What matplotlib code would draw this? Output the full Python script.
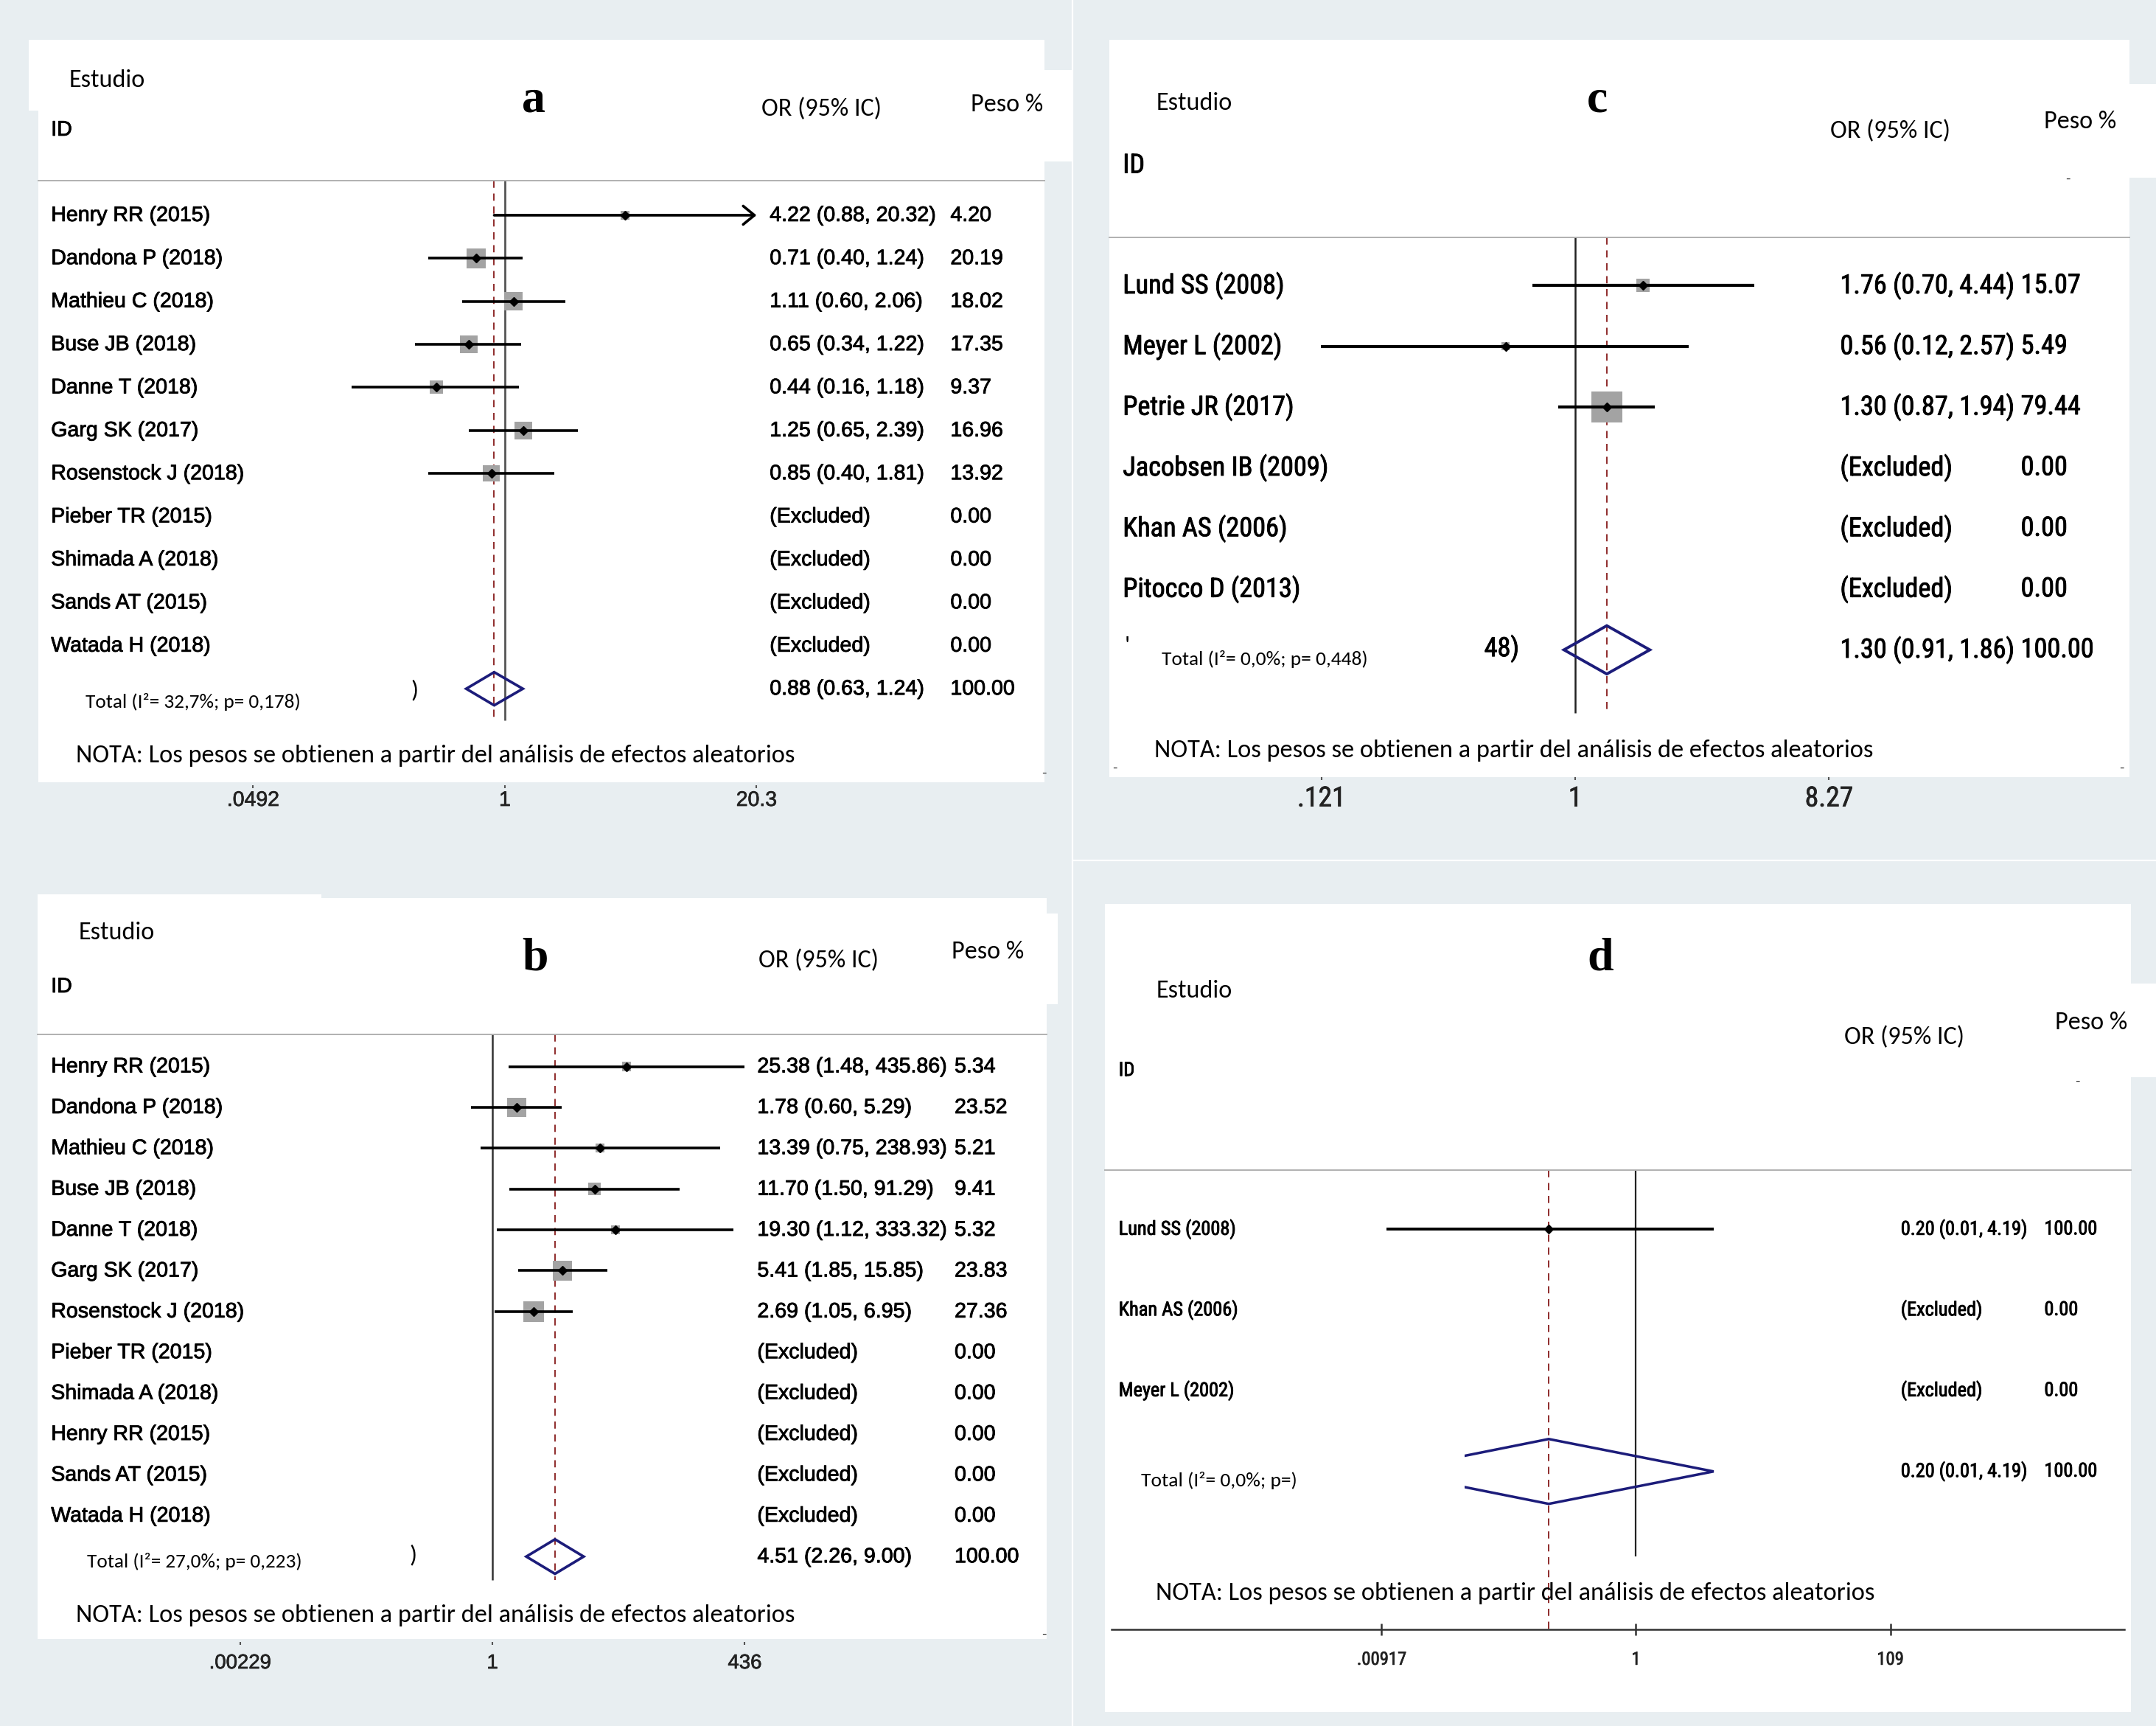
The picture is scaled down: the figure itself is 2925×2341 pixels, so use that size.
import numpy as np
import matplotlib
matplotlib.use("Agg")
import matplotlib.pyplot as plt
import matplotlib.transforms as mtransforms
import matplotlib.patheffects as pe
from matplotlib.patches import Rectangle, Polygon
from matplotlib.lines import Line2D
from matplotlib.ticker import NullLocator
from matplotlib import font_manager as fm

nan = np.nan
# ------------------------------------------------------------------ data
a_study = ["Henry RR (2015)", "Dandona P (2018)", "Mathieu C (2018)", "Buse JB (2018)",
           "Danne T (2018)", "Garg SK (2017)", "Rosenstock J (2018)", "Pieber TR (2015)",
           "Shimada A (2018)", "Sands AT (2015)", "Watada H (2018)"]
a_or = [4.22, 0.71, 1.11, 0.65, 0.44, 1.25, 0.85, nan, nan, nan, nan]
a_lo = [0.88, 0.40, 0.60, 0.34, 0.16, 0.65, 0.40, nan, nan, nan, nan]
a_hi = [20.32, 1.24, 2.06, 1.22, 1.18, 2.39, 1.81, nan, nan, nan, nan]
a_weight = [4.20, 20.19, 18.02, 17.35, 9.37, 16.96, 13.92, 0.00, 0.00, 0.00, 0.00]
a_total = [0.88, 0.63, 1.24]
a_total_weight = 100.00
a_het = "Total (I²= 32,7%; p= 0,178)"
a_ticks = [0.0492, 1, 20.3]
a_ticklabels = [".0492", "1", "20.3"]

b_study = ["Henry RR (2015)", "Dandona P (2018)", "Mathieu C (2018)", "Buse JB (2018)",
           "Danne T (2018)", "Garg SK (2017)", "Rosenstock J (2018)", "Pieber TR (2015)",
           "Shimada A (2018)", "Henry RR (2015)", "Sands AT (2015)", "Watada H (2018)"]
b_or = [25.38, 1.78, 13.39, 11.70, 19.30, 5.41, 2.69, nan, nan, nan, nan, nan]
b_lo = [1.48, 0.60, 0.75, 1.50, 1.12, 1.85, 1.05, nan, nan, nan, nan, nan]
b_hi = [435.86, 5.29, 238.93, 91.29, 333.32, 15.85, 6.95, nan, nan, nan, nan, nan]
b_weight = [5.34, 23.52, 5.21, 9.41, 5.32, 23.83, 27.36, 0.00, 0.00, 0.00, 0.00, 0.00]
b_total = [4.51, 2.26, 9.00]
b_total_weight = 100.00
b_het = "Total (I²= 27,0%; p= 0,223)"
b_ticks = [0.00229, 1, 436]
b_ticklabels = [".00229", "1", "436"]

c_study = ["Lund SS (2008)", "Meyer L (2002)", "Petrie JR (2017)", "Jacobsen IB (2009)",
           "Khan AS (2006)", "Pitocco D (2013)"]
c_or = [1.76, 0.56, 1.30, nan, nan, nan]
c_lo = [0.70, 0.12, 0.87, nan, nan, nan]
c_hi = [4.44, 2.57, 1.94, nan, nan, nan]
c_weight = [15.07, 5.49, 79.44, 0.00, 0.00, 0.00]
c_total = [1.30, 0.91, 1.86]
c_total_weight = 100.00
c_het = "Total (I²= 0,0%; p= 0,448)"
c_ticks = [0.121, 1, 8.27]
c_ticklabels = [".121", "1", "8.27"]

d_study = ["Lund SS (2008)", "Khan AS (2006)", "Meyer L (2002)"]
d_or = [0.20, nan, nan]
d_lo = [0.01, nan, nan]
d_hi = [4.19, nan, nan]
d_weight = [100.00, 0.00, 0.00]
d_total = [0.20, 0.01, 4.19]
d_total_weight = 100.00
d_het = "Total (I²= 0,0%; p=)"
d_ticks = [0.00917, 1, 109]
d_ticklabels = [".00917", "1", "109"]

panel_letters = ["a", "b", "c", "d"]
hdr_study = "Estudio"
hdr_id = "ID"
hdr_or = "OR (95% IC)"
hdr_w = "Peso %"
nota = "NOTA: Los pesos se obtienen a partir del análisis de efectos aleatorios"

# ------------------------------------------------------------------ fonts
avail = {f.name for f in fm.fontManager.ttflist}
REG = "Liberation Sans" if "Liberation Sans" in avail else "DejaVu Sans"
NARROW = REG
for cand in ["Liberation Sans Narrow", "Arial Narrow", "Roboto Condensed",
             "Open Sans Condensed", "Noto Sans Condensed"]:
    if cand in avail:
        NARROW = cand
        break
CAL = "Carlito" if "Carlito" in avail else ("Open Sans" if "Open Sans" in avail else REG)
SERIF = "Liberation Serif" if "Liberation Serif" in avail else "DejaVu Serif"
STROKE = [pe.withStroke(linewidth=0.6, foreground="black")]

# ------------------------------------------------------------------ figure
W, H = 1563.0, 1251.0          # layout units
SC = 2925.0 / W                # pixels per layout unit
fig = plt.figure(figsize=(29.25, 23.41), dpi=100)
BG = "#e8eef1"
fig.patch.set_facecolor(BG)
renderer = fig.canvas.get_renderer()


def fsize(s, family, target, weight="normal"):
    t = fig.text(0, 0, s, fontsize=20, family=family, weight=weight)
    w = t.get_window_extent(renderer).width
    t.remove()
    return 20.0 * target * SC / w


def frect(x0, y0, x1, y1, color="white", z=-5):
    fig.add_artist(Rectangle((x0 / W, 1 - y1 / H), (x1 - x0) / W, (y1 - y0) / H,
                             transform=fig.transFigure, facecolor=color,
                             edgecolor="none", zorder=z))


def ftext(x, y, s, **kw):
    kw.setdefault("va", "center")
    kw.setdefault("ha", "left")
    return fig.text(x / W, 1 - y / H, s, **kw)


def fline(x0, y0, x1, y1, **kw):
    fig.add_artist(Line2D([x0 / W, x1 / W], [1 - y0 / H, 1 - y1 / H],
                          transform=fig.transFigure, **kw))


# white panel backgrounds
frect(21, 29, 757, 80)
frect(28, 29, 757, 567)
frect(757, 51, 777, 117)
frect(27, 648, 233, 660)
frect(27, 651, 759, 1188)
frect(759, 662, 767, 728)
frect(804, 29, 1544, 563)
frect(1544, 61, 1563, 129)
frect(801, 655, 1545, 1241)
frect(1545, 713, 1563, 781)
# thin white divisions between quadrants
fline(777.5, 0, 777.5, H, color="white", lw=1.6, zorder=-4)
fline(778, 623.5, W, 623.5, color="white", lw=1.6, zorder=-4)

hdr_fs = fsize(hdr_or, CAL, 87)
nota_fs = fsize(nota, CAL, 520)

panels = [
    dict(study=a_study, orr=a_or, lo=a_lo, hi=a_hi, w=a_weight, total=a_total,
         tw=a_total_weight, het=a_het, ticks=a_ticks, tl=a_ticklabels,
         box=(28, 757, 131, 569), x1=366, k=60.6, y0=156, dy=31.2, null_end=522,
         dash_end=522, dh=12, name_x=37, or_x=558, w_x=689, het_xy=(62, 509),
         row=(REG, "Rosenstock J (2018)", 140), tick=(REG, ".0492", 38), tick_y=581,
         het_w=156, sq=5.9, ci_lw=2.6, null_c="#555555", null_lw=2.0, dia_lw=2.6,
         h_est=(50, 58), h_id=(37, 94), h_let=(387, 73), h_or=(552, 79), h_w=(704, 76),
         h_nota=(55, 548), extra=[(")", 298, 500)], dashes=[(757, 561)],
         tick_len=3, tick_dir="out"),
    dict(study=b_study, orr=b_or, lo=b_lo, hi=b_hi, w=b_weight, total=b_total,
         tw=b_total_weight, het=b_het, ticks=b_ticks, tl=b_ticklabels,
         box=(27, 759, 750, 1190), x1=357, k=30.1, y0=773, dy=29.6, null_end=1145,
         dash_end=1145, dh=12.5, name_x=37, or_x=549, w_x=692, het_xy=(63, 1132),
         row=(REG, "Rosenstock J (2018)", 140), tick=(REG, ".00229", 45), tick_y=1206,
         het_w=156, sq=5.35, ci_lw=2.6, null_c="#333333", null_lw=1.8, dia_lw=2.6,
         h_est=(57, 676), h_id=(37, 715), h_let=(388, 695), h_or=(550, 696), h_w=(690, 690),
         h_nota=(55, 1171), extra=[(")", 297, 1127)], dashes=[(757, 1185)],
         tick_len=3, tick_dir="out"),
    dict(study=c_study, orr=c_or, lo=c_lo, hi=c_hi, w=c_weight, total=c_total,
         tw=c_total_weight, het=c_het, ticks=c_ticks, tl=c_ticklabels,
         box=(804, 1544, 172, 563), x1=1142, k=87.1, y0=207, dy=44, null_end=517,
         dash_end=517, dh=17.5, name_x=814, or_x=1334, w_x=1465, het_xy=(842, 478),
         row=(NARROW, "Jacobsen IB (2009)", 149), tick=(NARROW, ".121", 35), tick_y=579,
         het_w=149, sq=4.7, ci_lw=3.0, null_c="#222222", null_lw=1.8, dia_lw=2.8,
         h_est=(838, 75), h_id=(814, 120), h_let=(1158, 73), h_or=(1327, 95), h_w=(1482, 88),
         h_nota=(837, 544), extra=[("48)", 1076, 470), ("'", 815, 468)],
         dashes=[(1499, 130), (808, 557), (1538, 557)], tick_len=3, tick_dir="out"),
    dict(study=d_study, orr=d_or, lo=d_lo, hi=d_hi, w=d_weight, total=d_total,
         tw=d_total_weight, het=d_het, ticks=d_ticks, tl=d_ticklabels,
         box=(801, 1545, 848, 1181), x1=1186, k=39.3, y0=891, dy=58.5, null_end=1128,
         dash_end=1181, dh=23.5, name_x=811, or_x=1378, w_x=1482, het_xy=(827, 1073),
         row=(NARROW, "Lund SS (2008)", 85), tick=(NARROW, ".00917", 36), tick_y=1203,
         het_w=113, sq=0.0, ci_lw=2.8, null_c="#222222", null_lw=1.6, dia_lw=2.5,
         h_est=(838, 718), h_id=(811, 776), h_let=(1160, 695), h_or=(1337, 752), h_w=(1490, 741),
         h_nota=(838, 1155), extra=[], dashes=[(1506, 784)], tick_len=12, tick_dir="inout",
         mask=(803, 1049, 1062, 1096)),
]

for letter, p in zip(panel_letters, panels):
    L, R, T, B = p["box"]
    ax = fig.add_axes([L / W, 1 - B / H, (R - L) / W, (B - T) / H])
    ax.set_xscale("log")
    ax.set_xlim(np.exp((L - p["x1"]) / p["k"]), np.exp((R - p["x1"]) / p["k"]))
    y0, dy = p["y0"], p["dy"]
    ytop = (T - y0) / dy
    ax.set_ylim((B - y0) / dy, ytop)
    ax.patch.set_alpha(0)
    for s in ax.spines.values():
        s.set_visible(False)
    ax.yaxis.set_visible(False)
    blend = mtransforms.blended_transform_factory(ax.transAxes, ax.transData)

    def xf(x):
        return (x - L) / (R - L)

    rfam, rref, rwid = p["row"]
    row_fs = fsize(rref, rfam, rwid)
    rkw = dict(transform=blend, fontsize=row_fs, family=rfam, va="center", ha="left",
               path_effects=STROKE)

    # separator under header
    fline(L, T, R, T, color="#b0b0b0", lw=1.4, zorder=1)

    n = len(p["study"])
    for i in range(n):
        name, o, lo, hi, w = p["study"][i], p["orr"][i], p["lo"][i], p["hi"][i], p["w"][i]
        ax.text(xf(p["name_x"]), i, name, **rkw)
        if np.isnan(o):
            ax.text(xf(p["or_x"]), i, "(Excluded)", **rkw)
        else:
            ax.text(xf(p["or_x"]), i, f"{o:.2f} ({lo:.2f}, {hi:.2f})", **rkw)
            if hi > p["ticks"][-1]:
                ax.annotate("", xy=(p["ticks"][-1], i), xytext=(lo, i),
                            arrowprops=dict(arrowstyle="->,head_length=0.55,head_width=0.45",
                                            lw=p["ci_lw"], color="black", shrinkA=0,
                                            shrinkB=0, mutation_scale=20), zorder=3)
            else:
                ax.hlines(i, lo, hi, colors="black", lw=p["ci_lw"], zorder=3)
            if p["sq"] > 0:
                side_pt = p["sq"] * np.sqrt(w) * 0.72
                ax.scatter([o], [i], marker="s", s=side_pt ** 2, color="#a3a3a3",
                           edgecolors="none", zorder=2)
            ax.plot([o], [i], marker="D", ms=6.5, color="black", zorder=4)
        ax.text(xf(p["w_x"]), i, f"{w:.2f}", **rkw)

    # pooled estimate
    est, tlo, thi = p["total"]
    hh = p["dh"] / dy
    ax.add_patch(Polygon([(tlo, n), (est, n - hh), (thi, n), (est, n + hh)], closed=True,
                         facecolor="none", edgecolor="#1c1c7a", lw=p["dia_lw"], zorder=3))
    ax.text(xf(p["or_x"]), n, f"{est:.2f} ({tlo:.2f}, {thi:.2f})", **rkw)
    ax.text(xf(p["w_x"]), n, f"{p['tw']:.2f}", **rkw)

    # reference lines
    ax.vlines(1, ytop, (p["null_end"] - y0) / dy, colors=p["null_c"], lw=p["null_lw"], zorder=1)
    ax.vlines(est, ytop, (p["dash_end"] - y0) / dy, colors="#8e2b2b", lw=1.4,
              linestyles=(0, (5, 4)), zorder=1)

    if "mask" in p:
        mx0, my0, mx1, my1 = p["mask"]
        ax.add_patch(Rectangle((mx0 / W, 1 - my1 / H), (mx1 - mx0) / W, (my1 - my0) / H,
                               transform=fig.transFigure, facecolor="white",
                               edgecolor="none", zorder=6))

    # x axis
    tfam, tref, twid = p["tick"]
    tick_fs = fsize(tref, tfam, twid)
    ax.set_xticks(p["ticks"])
    ax.set_xticklabels(p["tl"], fontsize=tick_fs, family=tfam, color="#222222")
    for lab in ax.get_xticklabels():
        lab.set_path_effects([pe.withStroke(linewidth=0.5, foreground="#222222")])
    ax.xaxis.set_minor_locator(NullLocator())
    out_len = p["tick_len"] / 2 if p["tick_dir"] == "inout" else p["tick_len"]
    lab_h = tick_fs * 100 / 72 * 1.0
    pad = ((p["tick_y"] - B) * SC - lab_h / 2) * 0.72 - out_len
    ax.tick_params(axis="x", direction=p["tick_dir"], length=p["tick_len"], width=1.5,
                   color="#555555", pad=max(pad, 0))
    if letter == "d":
        ax.spines["bottom"].set_visible(True)
        ax.spines["bottom"].set_linewidth(1.8)
        ax.spines["bottom"].set_color("#333333")
        ax.spines["bottom"].set_bounds(np.exp((806 - p["x1"]) / p["k"]),
                                       np.exp((1540 - p["x1"]) / p["k"]))
        ax.tick_params(axis="x", color="#333333", width=1.8)

    # headers and notes
    ftext(*p["h_est"], hdr_study, fontsize=hdr_fs, family=CAL)
    ftext(*p["h_id"], hdr_id, fontsize=row_fs, family=rfam, path_effects=STROKE)
    ftext(*p["h_or"], hdr_or, fontsize=hdr_fs, family=CAL)
    ftext(*p["h_w"], hdr_w, fontsize=hdr_fs, family=CAL)
    ftext(p["h_let"][0], p["h_let"][1], letter, fontsize=46, family=SERIF, weight="bold",
          ha="center")
    ftext(*p["h_nota"], nota, fontsize=nota_fs, family=CAL)
    het_fs = fsize(p["het"], CAL, p["het_w"])
    ftext(*p["het_xy"], p["het"], fontsize=het_fs, family=CAL, zorder=8)
    for s, ex, ey in p["extra"]:
        if len(s) > 1:
            ftext(ex, ey, s, fontsize=row_fs, family=rfam, path_effects=STROKE)
        else:
            ftext(ex, ey, s, fontsize=het_fs * 1.2, family=CAL)
    for dx_, dy_ in p["dashes"]:
        ftext(dx_, dy_, "-", fontsize=14, family=REG, ha="center", color="#333333")

fig.savefig("out.png", dpi=100, facecolor=fig.get_facecolor())
